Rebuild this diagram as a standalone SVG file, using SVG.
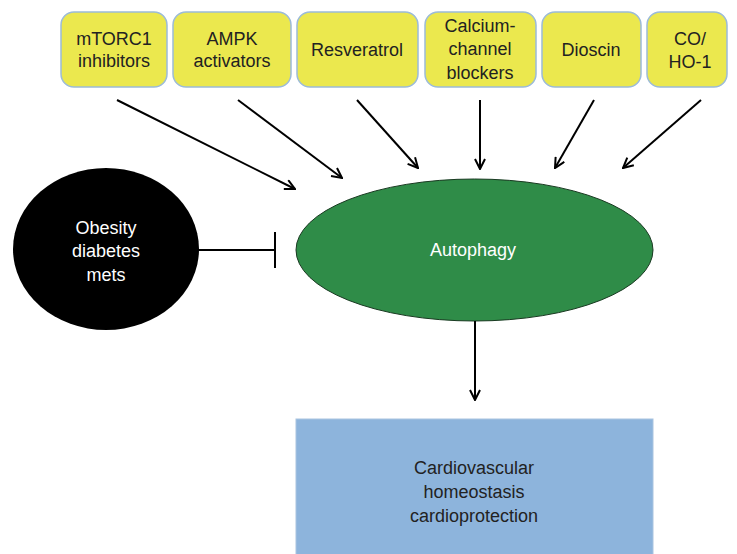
<svg xmlns="http://www.w3.org/2000/svg" width="737" height="554" viewBox="0 0 737 554">
<style>
.box{fill:#ebe84e;stroke:#9cbbd8;stroke-width:1.5}
.t{font-family:"Liberation Sans",Arial,sans-serif;font-size:18px;fill:#222;text-anchor:middle}
.w{fill:#fff}
.c{stroke:#000;stroke-width:2;fill:none}
</style>
<defs>
<marker id="ah" viewBox="0 0 12 12" refX="11" refY="6" markerWidth="12" markerHeight="12" markerUnits="userSpaceOnUse" orient="auto">
<polyline points="1,1 11,6 1,11" fill="none" stroke="#000" stroke-width="2"/>
</marker>
</defs>
<rect width="737" height="554" fill="#fff"/>
<g id="n1"><rect class="box" x="61" y="12" width="106" height="75" rx="13"/><text class="t" x="114" y="45">mTORC1</text><text class="t" x="114" y="67">inhibitors</text></g>
<g id="n2"><rect class="box" x="173" y="12" width="118" height="75" rx="13"/><text class="t" x="232" y="45">AMPK</text><text class="t" x="232" y="67">activators</text></g>
<g id="n3"><rect class="box" x="297" y="12" width="121" height="75" rx="13"/><text class="t" x="357" y="56">Resveratrol</text></g>
<g id="n4"><rect class="box" x="425" y="12" width="111" height="75" rx="13"/><text class="t" x="480" y="32">Calcium-</text><text class="t" x="480" y="55">channel</text><text class="t" x="480" y="79">blockers</text></g>
<g id="n5"><rect class="box" x="542" y="12" width="99" height="75" rx="13"/><text class="t" x="591" y="56">Dioscin</text></g>
<g id="n6"><rect class="box" x="647" y="12" width="80" height="75" rx="13"/><text class="t" x="690" y="45">CO/</text><text class="t" x="690" y="68">HO-1</text></g>
<g id="obesity"><ellipse cx="106" cy="249" rx="93" ry="81" fill="#000"/><text class="t w" x="106" y="234">Obesity</text><text class="t w" x="106" y="257">diabetes</text><text class="t w" x="106" y="281">mets</text></g>
<g id="autophagy"><ellipse cx="474.5" cy="250" rx="178.5" ry="71" fill="#2f8c48" stroke="#1a3a22" stroke-width="1"/><text class="t w" x="473" y="256">Autophagy</text></g>
<g id="outcome"><rect x="296" y="419" width="357" height="140" fill="#8db4dc" stroke="#a9c4e0" stroke-width="1"/><text class="t" x="474" y="474">Cardiovascular</text><text class="t" x="474" y="498">homeostasis</text><text class="t" x="474" y="522">cardioprotection</text></g>
<g id="connectors">
<line class="c" x1="117" y1="100" x2="295" y2="189" marker-end="url(#ah)"/>
<line class="c" x1="238" y1="100" x2="342" y2="178" marker-end="url(#ah)"/>
<line class="c" x1="357" y1="100" x2="418" y2="168" marker-end="url(#ah)"/>
<line class="c" x1="480" y1="100" x2="480" y2="169" marker-end="url(#ah)"/>
<line class="c" x1="594" y1="100" x2="555" y2="168" marker-end="url(#ah)"/>
<line class="c" x1="701" y1="100" x2="623" y2="168" marker-end="url(#ah)"/>
<line class="c" x1="475" y1="321" x2="475" y2="400" marker-end="url(#ah)"/>
<line class="c" x1="198" y1="250" x2="275" y2="250"/>
<line class="c" x1="275" y1="232" x2="275" y2="268"/>
</g>
</svg>
